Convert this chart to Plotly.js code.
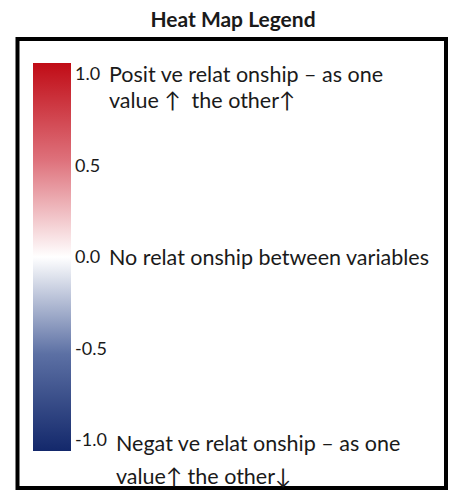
<!DOCTYPE html>
<html>
<head>
<meta charset="utf-8">
<script src="https://cdn.plot.ly/plotly-3.0.1.min.js"></script>
<style>html,body{margin:0;padding:0;background:#fff;}#chart{width:453px;height:491px;}</style>
</head>
<body>
<div id="chart"></div>
<script>
// ---- data ----
const scaleValues = [-1.0, -0.5, 0.0, 0.5, 1.0];
const tickLabels = ["-1.0", "-0.5", "0.0", "0.5", "1.0"];
const colorStops = [0, 0.25, 0.5, 0.75, 1];
const stopColors = ["#13286b", "#5c70a4", "#ffffff", "#de717b", "#c00c16"];
const positiveLines = ["Posit ve relat onship \u2013 as one", "value \u2191  the other\u2191"];
const neutralLines = ["No relat onship between variables"];
const negativeLines = ["Negat ve relat onship \u2013 as one", "value\u2191 the other\u2193"];
const titleText = "Heat Map Legend";

// ---- layout helpers ----
const W = 453, H = 491;
const px = x => x / W;
const py = y => 1 - y / H;
const FONT = "Lato, 'Liberation Sans', sans-serif";

const colorscale = colorStops.map((s, i) => [s, stopColors[i]]);

const trace = {
  type: "scatter",
  mode: "markers",
  x: scaleValues,
  y: scaleValues,
  hoverinfo: "skip",
  marker: {
    color: scaleValues,
    colorscale: colorscale,
    cmin: -1.06,
    cmax: 1.06,
    opacity: 0,
    showscale: true,
    colorbar: {
      x: px(33), xanchor: "left", xpad: 0,
      y: py(257), yanchor: "middle", ypad: 0,
      lenmode: "pixels", len: 388,
      thicknessmode: "pixels", thickness: 38,
      outlinewidth: 0,
      ticks: "", ticklen: 0,
      tickvals: scaleValues,
      ticktext: tickLabels,
      tickfont: {family: FONT, size: 18, color: "#1a1a1a"}
    }
  }
};

function lineAnn(text, x, y, size) {
  return {
    text: text, xref: "paper", yref: "paper",
    x: px(x), y: py(y), xanchor: "left", yanchor: "middle",
    showarrow: false, font: {family: FONT, size: size, color: "#1a1a1a"}
  };
}

const annotations = [
  lineAnn(positiveLines[0], 107, 74, 21.5),
  lineAnn(positiveLines[1], 107, 100, 21.5),
  lineAnn(neutralLines[0], 107, 257, 21.5),
  lineAnn(negativeLines[0], 114, 443, 21.5),
  lineAnn(negativeLines[1], 114, 476, 21.5)
];

const layout = {
  width: W, height: H,
  margin: {l: 0, r: 0, t: 0, b: 0},
  paper_bgcolor: "#ffffff",
  plot_bgcolor: "#ffffff",
  showlegend: false,
  xaxis: {visible: false, range: [5, 6], fixedrange: true},
  yaxis: {visible: false, range: [5, 6], fixedrange: true},
  title: {
    text: "<b>" + titleText + "</b>",
    font: {family: FONT, size: 21, color: "#1a1a1a"},
    x: px(233), xref: "paper", xanchor: "center",
    y: py(20), yref: "container", yanchor: "middle"
  },
  shapes: [{
    type: "rect", xref: "paper", yref: "paper",
    x0: px(17.5), x1: px(446), y0: py(39), y1: py(488),
    line: {color: "#000000", width: 4}, fillcolor: "rgba(0,0,0,0)"
  }],
  annotations: annotations
};

Plotly.newPlot("chart", [trace], layout, {displayModeBar: false, staticPlot: true});
</script>
</body>
</html>
